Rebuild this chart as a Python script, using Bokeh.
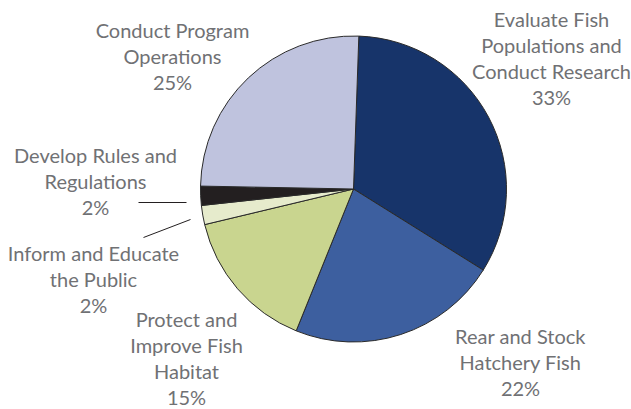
import math
from bokeh.plotting import figure
from bokeh.models import Range1d
from bokeh.core.properties import value
from bokeh.embed import file_html
from bokeh.resources import INLINE

# Data
categories = ["Evaluate Fish Populations and Conduct Research",
              "Rear and Stock Hatchery Fish",
              "Protect and Improve Fish Habitat",
              "Inform and Educate the Public",
              "Develop Rules and Regulations",
              "Conduct Program Operations"]
percents = [33, 22, 15, 2, 2, 25]
label_lines = [["Evaluate Fish", "Populations and", "Conduct Research", "33%"],
               ["Rear and Stock", "Hatchery Fish", "22%"],
               ["Protect and", "Improve Fish", "Habitat", "15%"],
               ["Inform and Educate", "the Public", "2%"],
               ["Develop Rules and", "Regulations", "2%"],
               ["Conduct Program", "Operations", "25%"]]
colors = ["#17346A", "#3D5F9F", "#C9D58F", "#E6EBCC", "#231F20", "#BFC3DE"]

W, H = 631, 409
# layout (pixel coordinates, y from top)
cx, cy, r = 353, 188.5, 153
start_deg = 88.0
label_pos = [(551, 18), (520, 335), (186, 318), (93, 252), (95, 154), (172, 29)]
line_step = 26.0

p = figure(width=W, height=H, output_backend="svg", toolbar_location=None,
           x_range=Range1d(0, W), y_range=Range1d(0, H), min_border=0)
p.axis.visible = False
p.grid.visible = False
p.outline_line_color = None
p.background_fill_color = "white"
p.border_fill_color = "white"

total = sum(percents)
ang = math.radians(start_deg)
starts, ends = [], []
for v in percents:
    sweep = v / total * 2 * math.pi
    starts.append(ang)
    ends.append(ang - sweep)
    ang -= sweep

p.wedge(x=[cx] * len(percents), y=[H - cy] * len(percents), radius=r,
        start_angle=starts, end_angle=ends, direction="clock",
        fill_color=colors, line_color="#2a2a2a", line_width=1)

xs, ys, txt = [], [], []
for (lx, ly), lines in zip(label_pos, label_lines):
    for i, t in enumerate(lines):
        xs.append(lx)
        ys.append(H - (ly + i * line_step))
        txt.append(t)
p.text(x=xs, y=ys, text=txt, text_align="center", text_baseline="middle",
       text_font=value("Lato"), text_font_size="20px",
       text_color="#707174")

# leader lines
p.segment(x0=[138, 143], y0=[H - 202, H - 237], x1=[186, 190], y1=[H - 202, H - 219],
          line_color="#231F20", line_width=1)

open("out.html", "w").write(file_html(p, INLINE))
